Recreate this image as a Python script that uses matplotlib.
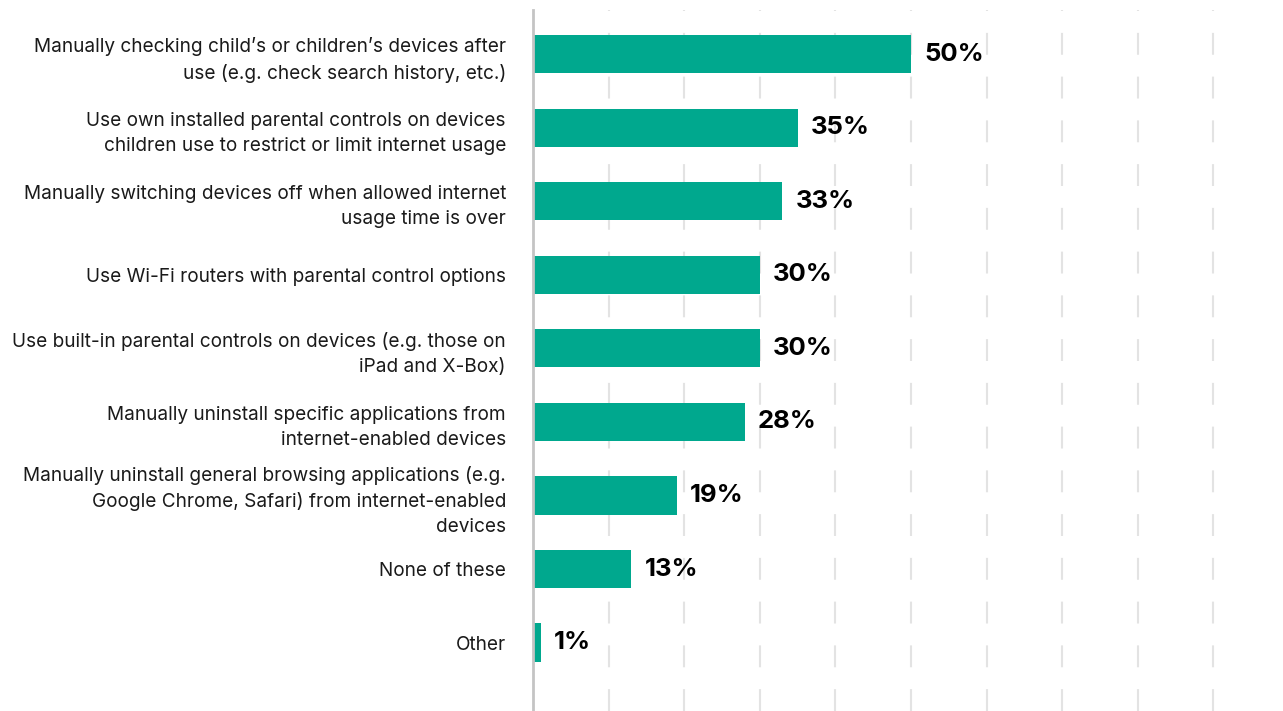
import matplotlib
matplotlib.use('Agg')
import matplotlib.pyplot as plt

labels = [
    "Manually checking child\u2019s or children\u2019s devices after\nuse (e.g. check search history, etc.)",
    "Use own installed parental controls on devices\nchildren use to restrict or limit internet usage",
    "Manually switching devices off when allowed internet\nusage time is over",
    "Use Wi-Fi routers with parental control options",
    "Use built-in parental controls on devices (e.g. those on\niPad and X-Box)",
    "Manually uninstall specific applications from\ninternet-enabled devices",
    "Manually uninstall general browsing applications (e.g.\nGoogle Chrome, Safari) from internet-enabled\ndevices",
    "None of these",
    "Other",
]
values = [50, 35, 33, 30, 30, 28, 19, 13, 1]
grid_ticks = [10, 20, 30, 40, 50, 60, 70, 80, 90]

BAR_COLOR = '#00A88E'

plt.rcParams['font.family'] = ['Inter', 'DejaVu Sans']

fig = plt.figure(figsize=(12.83, 7.11), dpi=100)
ax = fig.add_axes([533 / 1283, 0, 1 - 533 / 1283, 1 - 10 / 711])

pos = list(range(len(labels)))
ax.barh(pos, values, height=0.52, color=BAR_COLOR, zorder=3)

for p, v in zip(pos, values):
    ax.annotate('{}%'.format(v), xy=(v, p), xytext=(9.4, 0), textcoords='offset points',
                ha='left', va='center', fontsize=18.5, fontweight='bold', color='black', zorder=4)

ax.set_xlim(0, 99.2)
ax.set_ylim(8.93, -0.6)
ax.set_yticks(pos)
ax.set_yticklabels(labels, fontsize=13.7, color='#1a1a1a', linespacing=1.5)
ax.tick_params(axis='y', length=0, pad=19.5)
ax.set_xticks(grid_ticks)
ax.tick_params(axis='x', length=0, labelbottom=False)
ax.grid(axis='x', color='#e3e3e3', linewidth=1.5, linestyle=(0, (10.5, 10.5)), zorder=0)
ax.grid(axis='y', visible=False)

for s in ['top', 'right', 'bottom']:
    ax.spines[s].set_visible(False)
ax.spines['left'].set_color('#c4c4c4')
ax.spines['left'].set_linewidth(2)
ax.spines['left'].set_zorder(5)

plt.savefig('out.png', dpi=100)
